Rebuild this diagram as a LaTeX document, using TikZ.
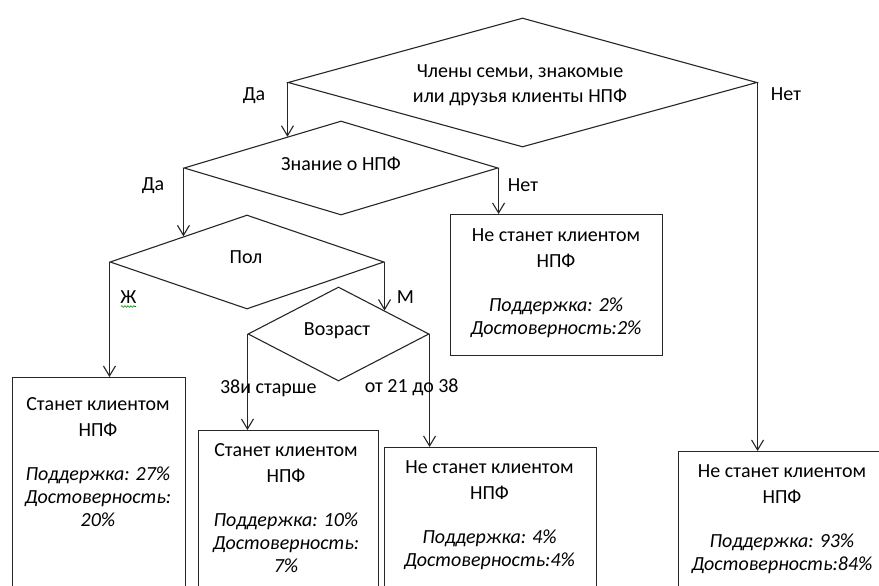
\documentclass[tikz,border=0pt]{standalone}
\usepackage{fontspec}
\setmainfont{Carlito}
\usetikzlibrary{shapes.geometric,arrows.meta,decorations.pathmorphing}
\begin{document}
\begin{tikzpicture}[x=1pt,y=-1pt,
  ln/.style={line width=1.1pt, draw=black!85},
  dia/.style={ln, diamond, inner sep=0pt},
  box/.style={ln, rectangle, inner sep=0pt, anchor=north west},
  arr/.style={ln, -{Straight Barb[length=10pt,width=12pt]}},
  txt/.style={inner sep=0pt, align=center, font=\fontsize{20}{23}\selectfont},
  lbl/.style={inner sep=0pt, anchor=base, font=\fontsize{20}{23}\selectfont}]
\useasboundingbox (0,0) rectangle (879,586);
\clip (0,0) rectangle (879,586);

% decision diamonds
\node[dia, minimum width=469pt, minimum height=129pt] (d1) at (522.5,82.5) {};
\node[dia, minimum width=314pt, minimum height=94pt] (d2) at (341,168) {};
\node[dia, minimum width=274pt, minimum height=94pt] (d3) at (247,262) {};
\node[dia, minimum width=181pt, minimum height=94pt] (d4) at (338.5,334) {};

\node[txt, anchor=north, font=\fontsize{20}{25}\selectfont] (t1) at (520,64.5) {Члены семьи, знакомые\\или друзья клиенты НПФ};
\node[lbl] (t2) at (341,170) {Знание о НПФ};
\node[lbl] (t3) at (246,263) {Пол};
\node[lbl] (t4) at (337,335) {Возраст};

% result boxes
\node[box, minimum width=212pt, minimum height=141pt] (b1) at (450,214) {};
\node[box, minimum width=173pt, minimum height=240pt] (b2) at (12,377) {};
\node[box, minimum width=180pt, minimum height=200pt] (b3) at (198,430) {};
\node[box, minimum width=212pt, minimum height=200pt] (b4) at (384,447) {};
\node[box, minimum width=208pt, minimum height=200pt] (b5) at (678,451) {};

\node[txt, anchor=north] (bt1) at (556,228.5) {Не станет клиентом\\[3pt]НПФ\\[21pt]\textit{Поддержка: 2\%}\\\textit{Достоверность:2\%}};
\node[txt, anchor=north] (bt2) at (98,397.5) {Станет клиентом\\[3pt]НПФ\\[21pt]\textit{Поддержка: 27\%}\\\textit{Достоверность:}\\\textit{20\%}};
\node[txt, anchor=north] (bt3) at (286,443.7) {Станет клиентом\\[3pt]НПФ\\[21pt]\textit{Поддержка: 10\%}\\\textit{Достоверность:}\\\textit{7\%}};
\node[txt, anchor=north] (bt4) at (489.5,460.8) {Не станет клиентом\\[3pt]НПФ\\[21pt]\textit{Поддержка: 4\%}\\\textit{Достоверность:4\%}};
\node[txt, anchor=north] (bt5) at (782,464.8) {Не станет клиентом\\[3pt]НПФ\\[21pt]\textit{Поддержка: 93\%}\\\textit{Достоверность:84\%}};

% connectors
\draw[arr] (d1.west) -- (d1.west |- d2.150);
\draw[arr] (d1.east) -- (d1.east |- b5.north);
\draw[arr] (d2.west) -- (d2.west |- d3.158);
\draw[arr] (d2.east) -- (d2.east |- b1.north);
\draw[arr] (d3.west) -- (d3.west |- b2.north);
\draw[arr] (d3.east) -- (d3.east |- d4.27);
\draw[arr] (d4.west) -- (d4.west |- b3.north);
\draw[arr] (d4.east) -- (d4.east |- b4.north);

% branch labels
\node[lbl] (l1) at (254,100) {Да};
\node[lbl] (l2) at (786,101) {Нет};
\node[lbl] (l3) at (153,190) {Да};
\node[lbl] (l4) at (523,191) {Нет};
\node[lbl] (l5) at (128.5,303) {Ж};
\draw[green!55!black, line width=0.6pt, decorate, decoration={snake, amplitude=0.8pt, segment length=3pt}] (121,306.5) -- (136,306.5);
\node[lbl] (l6) at (405.5,303) {М};
\node[lbl] (l7) at (268.3,393) {38и старше};
\node[lbl] (l8) at (411.7,392) {от 21 до 38};
\end{tikzpicture}
\end{document}
